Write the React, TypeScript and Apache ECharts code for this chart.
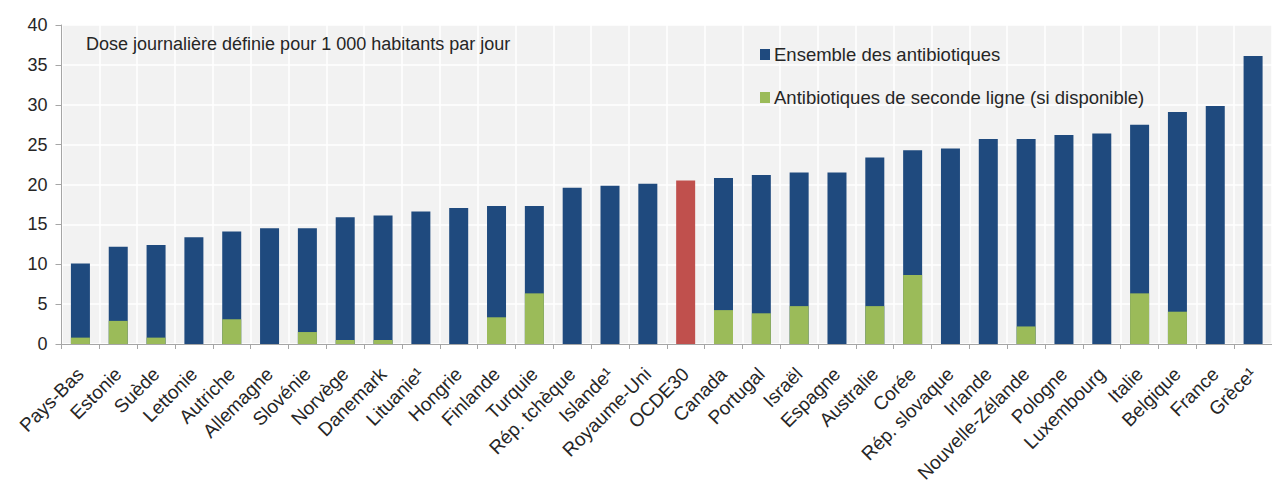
import React, { useEffect, useRef } from "react";
import * as echarts from "echarts";

const categories = [
  "Pays-Bas", "Estonie", "Suède", "Lettonie", "Autriche", "Allemagne", "Slovénie", "Norvège",
  "Danemark", "Lituanie¹", "Hongrie", "Finlande", "Turquie", "Rép. tchèque", "Islande¹",
  "Royaume-Uni", "OCDE30", "Canada", "Portugal", "Israël", "Espagne", "Australie", "Corée",
  "Rép. slovaque", "Irlande", "Nouvelle-Zélande", "Pologne", "Luxembourg", "Italie",
  "Belgique", "France", "Grèce¹",
];

const totalValues = [
  10.1, 12.2, 12.4, 13.4, 14.1, 14.5, 14.5, 15.9, 16.1, 16.6, 17.05, 17.3, 17.3, 19.6, 19.85,
  20.1, 20.5, 20.8, 21.2, 21.5, 21.5, 23.4, 24.3, 24.5, 25.7, 25.7, 26.2, 26.4, 27.5, 29.1,
  29.85, 36.1,
];

const secondLineValues: (number | null)[] = [
  0.8, 2.9, 0.8, null, 3.1, null, 1.5, 0.5, 0.5, null, null, 3.35, 6.35, null, null, null,
  null, 4.25, 3.85, 4.75, null, 4.75, 8.65, null, null, 2.2, null, null, 6.35, 4.05, null, null,
];

const yTicks = { min: 0, max: 40, interval: 5 };
const highlightCategory = "OCDE30";
const seriesNames = ["Ensemble des antibiotiques", "Antibiotiques de seconde ligne (si disponible)"];
const unitNote = "Dose journalière définie pour 1 000 habitants par jour";

const BLUE = "#1f4a7e";
const GREEN = "#9bbb59";
const RED = "#c0504d";
const FONT = "Liberation Sans, Arial, sans-serif";
const TEXT = "#262626";

export default function App() {
  const ref = useRef<HTMLDivElement>(null);
  useEffect(() => {
    if (!ref.current) return;
    const chart = echarts.init(ref.current, null, { renderer: "svg" });
    chart.setOption({
      animation: false,
      textStyle: { fontFamily: FONT },
      grid: {
        left: 61.5,
        top: 25,
        width: 1218.6,
        height: 319,
        show: true,
        backgroundColor: "#f2f2f2",
        borderWidth: 0,
      },
      legend: {
        orient: "vertical",
        left: 755,
        top: 40,
        itemWidth: 10,
        itemHeight: 11,
        itemGap: 24,
        icon: "rect",
        textStyle: { fontSize: 18.5, color: TEXT, fontFamily: FONT, padding: [0, 0, 0, -1] },
        data: seriesNames,
        z: 10,
      },
      graphic: [
        {
          type: "text",
          x: 86,
          y: 44,
          z: 100,
          style: {
            text: unitNote,
            fontSize: 18,
            fill: TEXT,
            fontFamily: FONT,
            verticalAlign: "middle",
          },
        },
      ],
      xAxis: {
        type: "category",
        data: categories,
        boundaryGap: true,
        axisLine: { show: true, lineStyle: { color: "#a6a6a6", width: 1 } },
        axisTick: { show: true, alignWithLabel: false, length: 5, lineStyle: { color: "#a6a6a6" } },
        splitLine: { show: true, interval: 0, lineStyle: { color: "#ffffff", width: 1.5 } },
        axisLabel: {
          interval: 0,
          rotate: 45,
          fontSize: 19,
          color: TEXT,
          margin: 27,
          fontFamily: FONT,
        },
      },
      yAxis: {
        type: "value",
        min: yTicks.min,
        max: yTicks.max,
        interval: yTicks.interval,
        axisLine: { show: true, lineStyle: { color: "#a6a6a6", width: 1 } },
        axisTick: { show: true, length: 6, lineStyle: { color: "#a6a6a6" } },
        splitLine: { show: true, lineStyle: { color: "#ffffff", width: 1.5 } },
        axisLabel: { fontSize: 18, color: TEXT, margin: 14, fontFamily: FONT },
      },
      series: [
        {
          name: seriesNames[0],
          type: "bar",
          barWidth: 19,
          barGap: "-100%",
          itemStyle: { color: BLUE },
          data: totalValues.map((v, i) =>
            categories[i] === highlightCategory ? { value: v, itemStyle: { color: RED } } : v
          ),
        },
        {
          name: seriesNames[1],
          type: "bar",
          barWidth: 19,
          barGap: "-100%",
          itemStyle: { color: GREEN },
          data: secondLineValues,
        },
      ],
    });
    return () => chart.dispose();
  }, []);
  return (
    <div
      ref={ref}
      style={{ position: "absolute", left: 0, top: 0, width: 1272, height: 490 }}
    />
  );
}
